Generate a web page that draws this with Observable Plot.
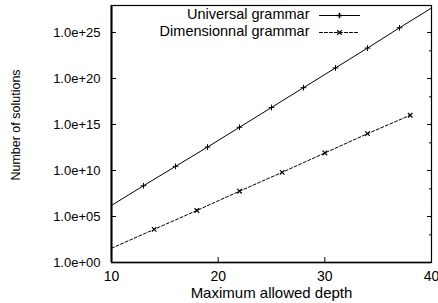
<!DOCTYPE html>
<html>
<head>
<meta charset="utf-8">
<script src="https://cdn.jsdelivr.net/npm/d3@7"></script>
<script src="https://cdn.jsdelivr.net/npm/@observablehq/plot@0.6"></script>
<style>
  html, body { margin: 0; padding: 0; background: #fff; }
  #chart { width: 438px; height: 303px; }
</style>
</head>
<body>
<div id="chart"></div>
<script>
// Universal grammar (line points; markers drawn every 3 depths)
const uniDepth  = [10, 13, 16, 19, 22, 25, 28, 31, 34, 37, 40];
const uniValue  = [1.6e6, 2.2e8, 2.8e10, 3.5e12, 5e14, 7e16, 1e19, 1.4e21, 2e23, 3.2e25, 4.5e27];
const uniMarkDepth = [13, 16, 19, 22, 25, 28, 31, 34, 37];

// Dimensionnal grammar
const dimDepth  = [10, 14, 18, 22, 26, 30, 34, 38];
const dimValue  = [35, 4e3, 4.5e5, 5.6e7, 6.3e9, 8e11, 1e14, 1e16];
const dimMarkDepth = [14, 18, 22, 26, 30, 34, 38];

const seriesNames = ["Universal grammar", "Dimensionnal grammar"];

const xTicks = [10, 20, 30, 40];
const yTicks = [1, 1e5, 1e10, 1e15, 1e20, 1e25];
const yTickLabels = ["1.0e+00", "1.0e+05", "1.0e+10", "1.0e+15", "1.0e+20", "1.0e+25"];
const yMinorTicks = [1e3, 1e8, 1e13, 1e18, 1e23];

const xLabel = "Maximum allowed depth";
const yLabel = "Number of solutions";

const uni = uniDepth.map((d, i) => ({depth: d, value: uniValue[i]}));
const dim = dimDepth.map((d, i) => ({depth: d, value: dimValue[i]}));
const uniMarks = uni.filter(d => uniMarkDepth.includes(d.depth));
const dimMarks = dim.filter(d => dimMarkDepth.includes(d.depth));

const lineShape = {draw(context, l) { context.moveTo(0, 0); context.lineTo(0, -l); }};

const chart = Plot.plot({
  width: 438,
  height: 303,
  marginLeft: 111,
  marginRight: 7,
  marginTop: 5,
  marginBottom: 41,
  style: {fontFamily: "'Liberation Sans', Arial, Helvetica, sans-serif", fontSize: "13px", color: "black", background: "white"},
  x: {domain: [10, 40]},
  y: {type: "log", domain: [1, 8.5e27]},
  marks: [
    Plot.axisY({ticks: yTicks, tickSize: 0, tickPadding: 11, tickFormat: (d) => yTickLabels[yTicks.indexOf(d)], fontSize: 13, label: null}),
    Plot.axisY({ticks: yTicks, tickSize: -5, tickFormat: () => "", label: null}),
    Plot.axisY({anchor: "right", ticks: yTicks, tickSize: -5, tickFormat: () => "", label: null}),
    Plot.axisY({anchor: "right", ticks: yMinorTicks, tickSize: -3, tickFormat: () => "", label: null}),
    Plot.axisX({ticks: xTicks, tickSize: 0, tickPadding: 9, fontSize: 14, label: null}),
    Plot.axisX({ticks: xTicks, tickSize: -5, tickFormat: () => "", label: null}),
    Plot.frame({stroke: "black", strokeWidth: 1.2}),
    Plot.ruleX([10], {stroke: "black", strokeWidth: 2}),
    Plot.ruleY([1], {stroke: "black", strokeWidth: 1.5}),
    Plot.line(uni, {x: "depth", y: "value", stroke: "black", strokeWidth: 1}),
    Plot.line(dim, {x: "depth", y: "value", stroke: "black", strokeWidth: 1, strokeDasharray: "3,2"}),
    Plot.dot(uniMarks, {x: "depth", y: "value", symbol: "plus", r: 2, stroke: "black", strokeWidth: 1}),
    Plot.dot(dimMarks, {x: "depth", y: "value", symbol: "times", r: 2.2, stroke: "black", strokeWidth: 1.2}),
    // legend
    Plot.text([seriesNames[0]], {frameAnchor: "top-right", dx: -122, dy: 9, textAnchor: "end", lineAnchor: "middle", fontSize: 14.5, fill: "black"}),
    Plot.text([seriesNames[1]], {frameAnchor: "top-right", dx: -122, dy: 26, textAnchor: "end", lineAnchor: "middle", fontSize: 14.5, fill: "black"}),
    Plot.vector([0], {frameAnchor: "top-right", dx: -112, dy: 10, length: 40, rotate: 90, anchor: "start", shape: lineShape, stroke: "black", strokeWidth: 1}),
    Plot.vector([0], {frameAnchor: "top-right", dx: -112, dy: 27, length: 40, rotate: 90, anchor: "start", shape: lineShape, stroke: "black", strokeWidth: 1, strokeDasharray: "3,2"}),
    Plot.dot([0], {frameAnchor: "top-right", dx: -92, dy: 10, symbol: "plus", r: 2, stroke: "black"}),
    Plot.dot([0], {frameAnchor: "top-right", dx: -92, dy: 27, symbol: "times", r: 2.2, stroke: "black", strokeWidth: 1.2}),
    // axis titles
    Plot.text([xLabel], {frameAnchor: "bottom", dy: 31, textAnchor: "middle", lineAnchor: "middle", fontSize: 15, fill: "black"}),
    Plot.text([yLabel], {frameAnchor: "left", dx: -96, dy: -9, rotate: -90, textAnchor: "middle", lineAnchor: "middle", fontSize: 12.5, fill: "black"})
  ]
});
document.getElementById("chart").appendChild(chart);
</script>
</body>
</html>
